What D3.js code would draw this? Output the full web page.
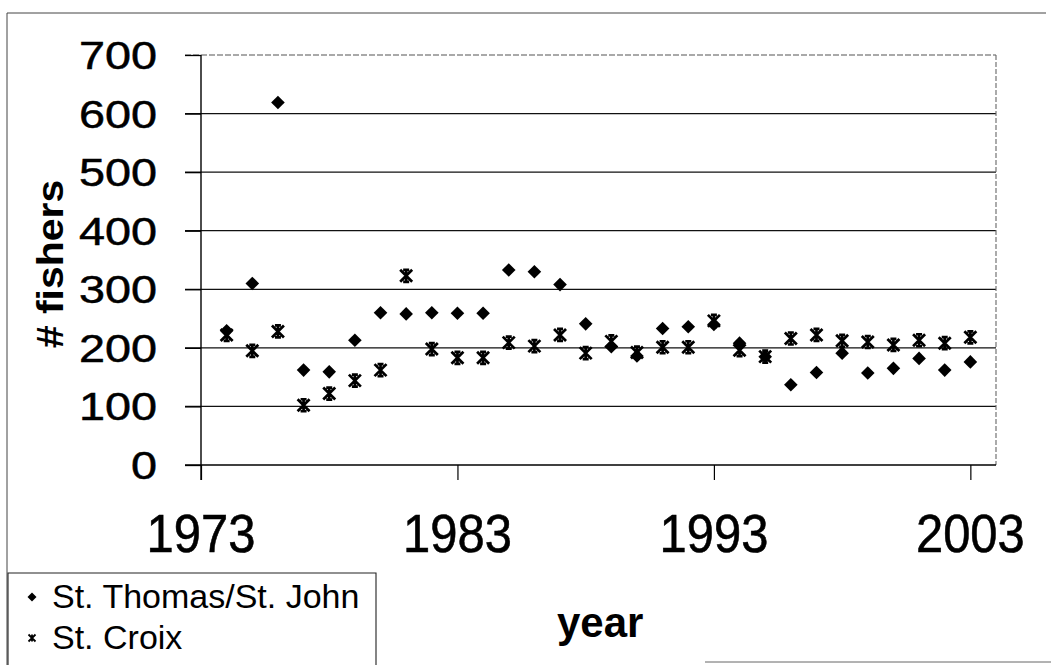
<!DOCTYPE html>
<html>
<head>
<meta charset="utf-8">
<script src="https://cdn.jsdelivr.net/npm/d3@7"></script>
<style>
  html, body { margin: 0; padding: 0; background: #fff; }
  svg { display: block; }
  text { font-family: "Liberation Sans", Arial, sans-serif; fill: #000; }
</style>
</head>
<body>
<svg id="chart" width="1051" height="665"></svg>
<script>
// ---- data ----
const years = [1974,1975,1976,1977,1978,1979,1980,1981,1982,1983,1984,1985,1986,1987,1988,
               1989,1990,1991,1992,1993,1994,1995,1996,1997,1998,1999,2000,2001,2002,2003];
const stThomasStJohn = [229,310,619,162,159,213,260,258,260,259,259,333,330,308,241,
                        202,186,233,236,240,208,185,137,158,191,157,165,182,162,176];
const stCroix = [222,195,228,102,122,144,162,323,198,183,183,209,203,222,191,
                 211,192,201,201,246,196,185,216,222,212,210,205,213,208,218];
const yTicks = [0,100,200,300,400,500,600,700];
const xTicks = [1973,1983,1993,2003];
const seriesNames = ["St. Thomas/St. John", "St. Croix"];

// ---- layout ----
const svg = d3.select("#chart");
const plot = {left: 201, right: 996, top: 55, bottom: 465};
const x = d3.scaleLinear().domain([1973, 2004]).range([plot.left, plot.right]);
const y = d3.scaleLinear().domain([0, 700]).range([plot.bottom, plot.top]);

// outer frame (partial, as in scan)
svg.append("path")
  .attr("d", `M7,665 L7,13 L1046,13`)
  .attr("fill", "none").attr("stroke", "#444").attr("stroke-width", 1);
svg.append("line").attr("x1", 705).attr("x2", 1051).attr("y1", 662).attr("y2", 662)
  .attr("stroke", "#666").attr("stroke-width", 1);

// gridlines
svg.append("g").selectAll("line").data(yTicks.filter(d => d > 0 && d < 700)).join("line")
  .attr("x1", plot.left - 16).attr("x2", plot.right)
  .attr("y1", d => y(d)).attr("y2", d => y(d))
  .attr("stroke", "#111").attr("stroke-width", 1.3);
// top gridline (dashed grey) and right border
svg.append("line").attr("x1", plot.left - 16).attr("x2", plot.right)
  .attr("y1", y(700)).attr("y2", y(700))
  .attr("stroke", "#555").attr("stroke-width", 1.1).attr("stroke-dasharray", "6,2");
svg.append("line").attr("x1", plot.right).attr("x2", plot.right)
  .attr("y1", y(700)).attr("y2", y(0))
  .attr("stroke", "#666").attr("stroke-width", 1.1).attr("stroke-dasharray", "5,2");

// y axis
const yAxis = d3.axisLeft(y).tickValues(yTicks).tickSize(16).tickFormat("");
const yg = svg.append("g").attr("transform", `translate(${plot.left},0)`).call(yAxis);
yg.select(".domain").attr("stroke", "#000").attr("stroke-width", 1.4)
  .attr("d", `M0,${plot.top}V${plot.bottom + 15}`);
yg.selectAll(".tick line").attr("stroke", "#000").attr("stroke-width", 1.3);

svg.append("g").selectAll("text").data(yTicks).join("text")
  .attr("transform", d => `translate(157,${y(d)}) scale(1.2,1)`)
  .attr("text-anchor", "end").attr("dy", "0.36em")
  .style("font-size", "39px").style("stroke", "#000").style("stroke-width", 0.5)
  .text(d => d);

// x axis
const xAxis = d3.axisBottom(x).tickValues(xTicks).tickSize(15).tickFormat("");
const xg = svg.append("g").attr("transform", `translate(0,${plot.bottom})`).call(xAxis);
xg.select(".domain").attr("stroke", "#000").attr("stroke-width", 1.4)
  .attr("d", `M${plot.left - 16},0H${plot.right}`);
xg.selectAll(".tick line").attr("stroke", "#000").attr("stroke-width", 1.2);

svg.append("g").selectAll("text").data(xTicks).join("text")
  .attr("transform", d => `translate(${x(d)},552) scale(1.02,1.1)`)
  .attr("text-anchor", "middle")
  .style("font-size", "48px").style("stroke", "#000").style("stroke-width", 0.5)
  .text(d => d);

// axis titles
svg.append("text")
  .attr("transform", "translate(63,264) rotate(-90) scale(1,0.88)")
  .attr("text-anchor", "middle")
  .style("font-size", "41px").style("font-weight", "bold")
  .text("# fishers");
svg.append("text")
  .attr("x", 557).attr("y", 637)
  .style("font-size", "42px").style("font-weight", "bold")
  .text("year");

// markers
const diamond = s => `M0,${-s}L${s},0L0,${s}L${-s},0Z`;
const star = s => `M${-s},${-s}L${s},${s}M${-s},${s}L${s},${-s}M0,${-s}L0,${s}M${-s*0.5},${-s}L${s*0.5},${-s}M${-s*0.5},${s}L${s*0.5},${s}`;

const croixData = years.map((yr, i) => ({yr, v: stCroix[i]}));
const thomasData = years.map((yr, i) => ({yr, v: stThomasStJohn[i]}));

svg.append("g").selectAll("path").data(croixData).join("path")
  .attr("transform", d => `translate(${x(d.yr)},${y(d.v)})`)
  .attr("d", star(6))
  .attr("fill", "none").attr("stroke", "#000").attr("stroke-width", 2.7);

svg.append("g").selectAll("path").data(thomasData).join("path")
  .attr("transform", d => `translate(${x(d.yr)},${y(d.v)})`)
  .attr("d", diamond(6.8))
  .attr("fill", "#000");

// legend
const lg = svg.append("g");
lg.append("path")
  .attr("d", "M8,665 L8,573 L376,573 L376,665")
  .attr("fill", "#fff").attr("stroke", "#222").attr("stroke-width", 1.1);
lg.append("path").attr("transform", "translate(32,597)").attr("d", diamond(4.5)).attr("fill", "#000");
lg.append("path").attr("transform", "translate(32,638)")
  .attr("d", "M-3.5,-3.5L3.5,3.5M-3.5,3.5L3.5,-3.5M0,-3.5L0,3.5")
  .attr("fill", "none").attr("stroke", "#000").attr("stroke-width", 1.8);
lg.selectAll("text").data(seriesNames).join("text")
  .attr("x", 52).attr("y", (d, i) => 608 + i * 41)
  .style("font-size", "34px")
  .text(d => d);
</script>
</body>
</html>
